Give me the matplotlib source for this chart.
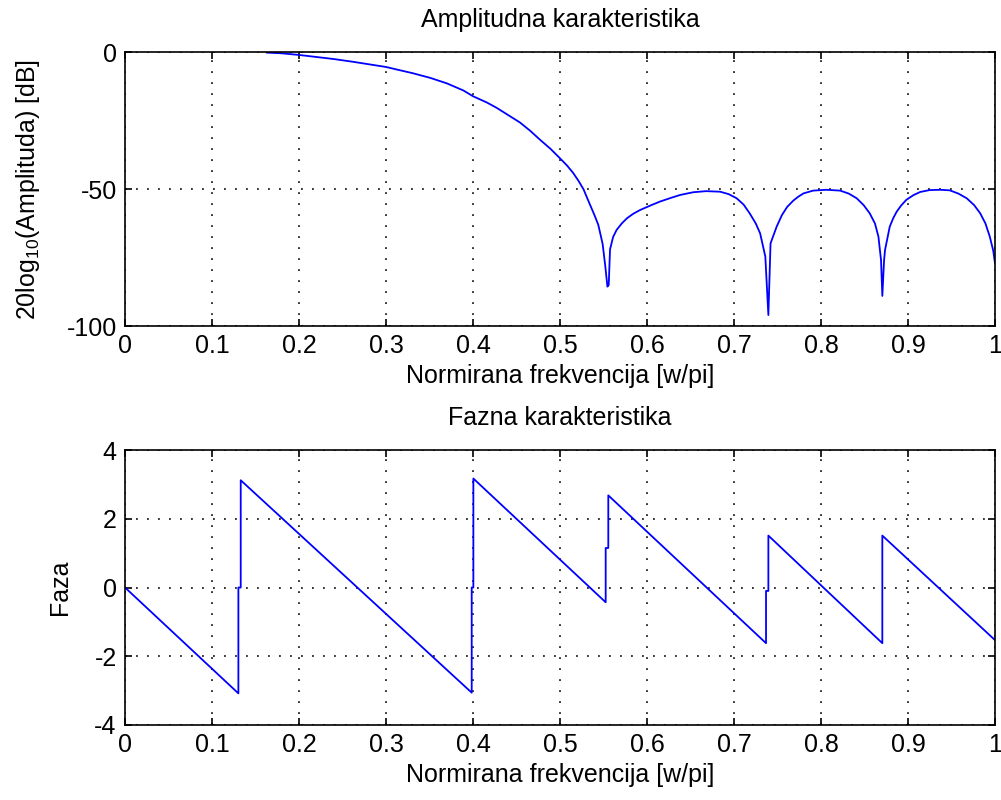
import numpy as np
import matplotlib
matplotlib.use("Agg")
import matplotlib.pyplot as plt

# amplitude response (normalised freq, dB)
amp_f = [0.163, 0.18, 0.2, 0.224, 0.24, 0.262, 0.28, 0.3, 0.312, 0.331,
         0.351, 0.37, 0.389, 0.4, 0.416, 0.427, 0.439, 0.454, 0.466, 0.477,
         0.489, 0.5, 0.508, 0.515, 0.521, 0.527, 0.534, 0.539, 0.544, 0.549,
         0.552, 0.5545, 0.556, 0.5575, 0.561, 0.565, 0.571, 0.577, 0.584, 0.592,
         0.605, 0.615, 0.628, 0.638, 0.653, 0.668, 0.684, 0.694, 0.703, 0.711,
         0.718, 0.725, 0.73, 0.736, 0.7395, 0.742, 0.749, 0.755, 0.761, 0.768,
         0.774, 0.78, 0.791, 0.806, 0.822, 0.832, 0.841, 0.849, 0.856, 0.862,
         0.866, 0.869, 0.8705, 0.8725, 0.8736, 0.879, 0.883, 0.887, 0.892, 0.898,
         0.906, 0.914, 0.925, 0.937, 0.948, 0.958, 0.9675, 0.976, 0.983, 0.989,
         0.994, 0.998, 1.0]
amp_db = [-0.05, -0.3, -0.9, -1.8, -2.4, -3.4, -4.3, -5.3, -6.2, -7.6,
          -9.3, -11.3, -13.9, -16.0, -18.3, -20.2, -22.6, -25.6, -28.7, -31.9,
          -35.2, -38.7, -41.3, -44.0, -46.8, -50.0, -55.3, -59.0, -63.0, -70.0,
          -78.0, -85.6, -85.0, -72.0, -67.5, -64.9, -62.5, -60.6, -59.0, -57.6,
          -55.8, -54.5, -53.1, -52.1, -51.1, -50.7, -50.9, -51.8, -53.3, -55.6,
          -58.8, -62.5, -66.1, -74.6, -96.0, -69.8, -63.7, -59.5, -56.5, -54.2,
          -52.7, -51.5, -50.5, -50.2, -50.5, -51.6, -53.3, -55.8, -58.8, -62.5,
          -67.3, -75.9, -89.0, -76.0, -72.2, -63.7, -60.6, -58.2, -56.0, -53.9,
          -52.2, -51.0, -50.3, -50.2, -50.4, -51.6, -53.3, -55.8, -58.8, -62.5,
          -67.3, -72.5, -77.0]

# phase response vertices (normalised freq, rad)
ph_f = [0.0, 0.1303, 0.1303, 0.133, 0.133, 0.3985, 0.3985, 0.4004, 0.4004,
        0.5525, 0.5525, 0.5555, 0.5555, 0.7368, 0.7368, 0.7395, 0.7395,
        0.8705, 0.8705, 1.0]
ph = [0.0, -3.08, 0.0, 0.0, 3.12, -3.06, 0.0, 0.0, 3.17,
      -0.43, 1.15, 1.15, 2.68, -1.62, -0.1, -0.1, 1.51,
      -1.62, 1.51, -1.53]

xticks = [0, 0.1, 0.2, 0.3, 0.4, 0.5, 0.6, 0.7, 0.8, 0.9, 1]
xticklabels = ["0", "0.1", "0.2", "0.3", "0.4", "0.5", "0.6", "0.7", "0.8", "0.9", "1"]

plt.rcParams["font.family"] = ["Liberation Sans", "DejaVu Sans"]
plt.rcParams["mathtext.default"] = "regular"
plt.rcParams["axes.unicode_minus"] = False
plt.rcParams["font.size"] = 18

fig = plt.figure(figsize=(10.01, 8), dpi=100)
ax1 = fig.add_axes([0.1249, 0.5925, 0.8691, 0.3419])
ax2 = fig.add_axes([0.1249, 0.09375, 0.8691, 0.34375])


def style(ax):
    ax.set_xlim(0, 1)
    ax.set_xticks(xticks)
    ax.set_xticklabels(xticklabels)
    ax.tick_params(direction="in", top=True, right=True, length=5, width=1.2,
                   pad=6, labelsize=18)
    ax.grid(True, color="black", linestyle=(0, (1.2, 6)), linewidth=1.1)
    for s in ax.spines.values():
        s.set_linewidth(1.2)


ax1.plot(amp_f, amp_db, color="blue", lw=1.3)
style(ax1)
ax1.set_ylim(-100, 0)
ax1.set_yticks([-100, -50, 0])
ax1.set_title("Amplitudna karakteristika", fontsize=18, pad=18)
ax1.set_xlabel("Normirana frekvencija [w/pi]", fontsize=18, labelpad=4)
ax1.set_ylabel("20log$_{10}$(Amplituda) [dB]", fontsize=18)
ax1.yaxis.set_label_coords(-0.096, 0.5)

ax2.plot(ph_f, ph, color="blue", lw=1.3)
style(ax2)
ax2.set_ylim(-4, 4)
ax2.set_yticks([-4, -2, 0, 2, 4])
ax2.set_title("Fazna karakteristika", fontsize=18, pad=18)
ax2.set_xlabel("Normirana frekvencija [w/pi]", fontsize=18, labelpad=4)
ax2.set_ylabel("Faza", fontsize=18)
ax2.yaxis.set_label_coords(-0.061, 0.5)

fig.savefig("out.png", dpi=100)
